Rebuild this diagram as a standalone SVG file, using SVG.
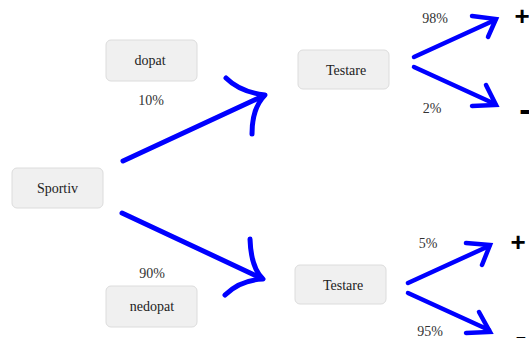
<svg xmlns="http://www.w3.org/2000/svg" width="529" height="338" viewBox="0 0 529 338">
<style>
.box{fill:#f0f0f0;stroke:#dcdcdc;stroke-width:1}
.t{font-family:"Liberation Serif",serif;font-size:14px;fill:#222;text-anchor:middle}
.p{font-family:"Liberation Serif",serif;font-size:14px;fill:#333;text-anchor:middle}
.s{font-family:"Liberation Sans",sans-serif;font-size:26px;font-weight:bold;fill:#000;text-anchor:middle}
.m{font-family:"Liberation Sans",sans-serif;font-size:34px;font-weight:bold;fill:#000;text-anchor:middle}
.a{fill:none;stroke:#0000ff;stroke-width:5;stroke-linecap:round;stroke-linejoin:round}
.b{fill:none;stroke:#0000ff;stroke-width:4.5;stroke-linecap:round;stroke-linejoin:miter}
</style>
<rect width="529" height="338" fill="#fff"/>
<g id="connectors">
  <path class="a" d="M123,161 L263,96"/>
  <path class="a" d="M226,78 Q240,92 265,95 Q252,108 252,134"/>
  <path class="a" d="M122,213 L261,278"/>
  <path class="a" d="M250,239 Q251,268 263,279 Q240,280 225,295"/>
  <path class="b" d="M414,57 L495,20"/>
  <path class="b" d="M472,16 L496,19 L488,37"/>
  <path class="b" d="M414,67 L495,104"/>
  <path class="b" d="M486,85 L496,105 L472,106"/>
  <path class="b" d="M408,283 L489,246"/>
  <path class="b" d="M466,243 L490,245 L482,265"/>
  <path class="b" d="M408,293 L489,330"/>
  <path class="b" d="M479,312 L490,332 L466,333"/>
</g>
<g id="sportiv"><rect class="box" x="12" y="168" width="91" height="40" rx="5"/><text class="t" x="57.5" y="193">Sportiv</text></g>
<g id="dopat"><rect class="box" x="106" y="40" width="91" height="41" rx="5"/><text class="t" x="150" y="65">dopat</text></g>
<g id="nedopat"><rect class="box" x="106" y="286" width="91" height="41" rx="5"/><text class="t" x="152" y="311">nedopat</text></g>
<g id="testare1"><rect class="box" x="298" y="50" width="91" height="39" rx="5"/><text class="t" x="346" y="75">Testare</text></g>
<g id="testare2"><rect class="box" x="295" y="265" width="91" height="39" rx="5"/><text class="t" x="343" y="290">Testare</text></g>
<g id="labels">
  <text class="p" x="151" y="105">10%</text>
  <text class="p" x="152" y="278">90%</text>
  <text class="p" x="435" y="23">98%</text>
  <text class="p" x="432" y="113">2%</text>
  <text class="p" x="428" y="248">5%</text>
  <text class="p" x="430" y="336">95%</text>
</g>
<g id="plus1"><text class="s" x="522" y="25">+</text></g>
<g id="minus1"><text class="m" x="525" y="121">-</text></g>
<g id="plus2"><text class="s" x="518" y="251">+</text></g>
<g id="minus2"><text class="m" x="521" y="348">-</text></g>
</svg>
